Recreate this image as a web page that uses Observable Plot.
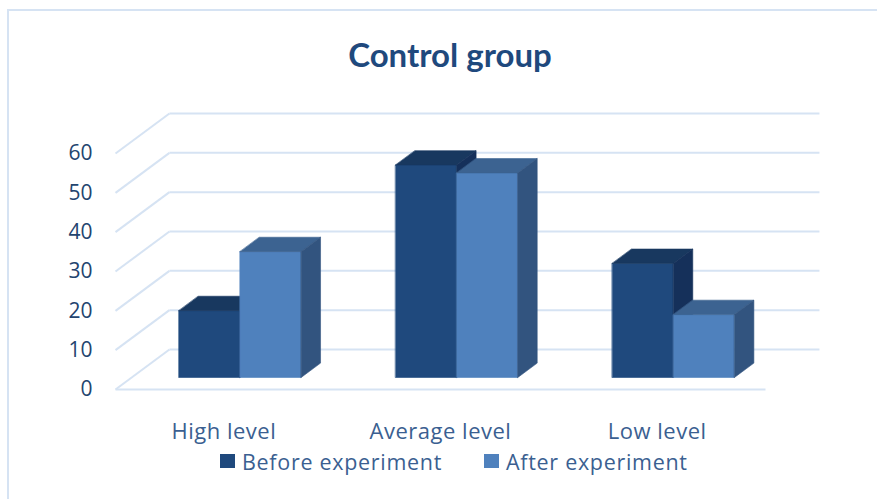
<!DOCTYPE html>
<html>
<head>
<meta charset="utf-8">
<script src="https://cdn.jsdelivr.net/npm/d3@7"></script>
<script src="https://cdn.jsdelivr.net/npm/@observablehq/plot@0.6"></script>
<style>
  html, body { margin: 0; padding: 0; background: #fff; }
  #wrap { position: relative; width: 877px; height: 499px; overflow: hidden; font-family: "Open Sans", Lato, sans-serif; }
  #frame { position: absolute; left: 7px; top: 9px; width: 900px; height: 520px; border-top: 2px solid #d6e3f3; border-left: 2px solid #d6e3f3; }
  #title { position: absolute; left: 0; width: 900px; top: 34px; text-align: center; font-family: Lato, sans-serif; font-weight: bold; font-size: 33px; color: #1f497d; }
  #chart { position: absolute; left: 0; top: 80px; }
  #chart g[aria-label="x-axis tick label"] { letter-spacing: 0.5px; }
  #legend { position: absolute; top: 446px; left: 0; width: 877px; height: 30px; font-size: 21.5px; letter-spacing: 0.7px; color: #3b5f91; white-space: nowrap; }
  .item { position: absolute; top: 0; display: inline-flex; align-items: center; height: 30px; }
  .sw { width: 15px; height: 14px; margin-right: 7px; display: inline-block; }
</style>
</head>
<body>
<div id="wrap">
  <div id="frame"></div>
  <div id="title">Control group</div>
  <div id="chart"></div>
  <div id="legend"></div>
</div>
<script>
// ---- data ----
const categories = ["High level", "Average level", "Low level"];
const seriesNames = ["Before experiment", "After experiment"];
const beforeValues = [17, 54, 29];
const afterValues = [32, 52, 16];
const yTicks = [0, 10, 20, 30, 40, 50, 60];

// ---- styles / geometry ----
const seriesColors = {
  "Before experiment": {front: "#1f497d", top: "#18385f", side: "#15305a"},
  "After experiment": {front: "#4f81bd", top: "#3c6391", side: "#32547f"}
};
const legendLeft = {"Before experiment": 220, "After experiment": 484};
const DEPTH_X = 0.249;   // category units per full depth
const DEPTH_Y = 10.17;   // value units per full depth
const BAR_FRONT = 0.3, BAR_DEPTH = 0.36;
const PAD = 0.218;
const BAR_W = (1 - 2 * PAD) / 2;
const gridColor = "#d6e3f3";
const tickColor = "#23446f";
const catColor = "#3b5f91";

// build faces
const faces = [];
const series = [beforeValues, afterValues];
categories.forEach((cat, i) => {
  series.forEach((vals, s) => {
    const name = seriesNames[s];
    const h = vals[i];
    const u1 = i + PAD + s * BAR_W, u2 = u1 + BAR_W;
    const a = DEPTH_X * BAR_FRONT, b = DEPTH_Y * BAR_FRONT;
    const a2 = DEPTH_X * (BAR_FRONT + BAR_DEPTH), b2 = DEPTH_Y * (BAR_FRONT + BAR_DEPTH);
    const c = seriesColors[name];
    const id = cat + "|" + name;
    const push = (face, color, pts) => pts.forEach(([x, y]) => faces.push({id: id + "|" + face, color, x, y}));
    push("front", c.front, [[u1 + a, b], [u2 + a, b], [u2 + a, h + b], [u1 + a, h + b]]);
    push("top", c.top, [[u1 + a, h + b], [u2 + a, h + b], [u2 + a2, h + b2], [u1 + a2, h + b2]]);
    push("side", c.side, [[u2 + a, b], [u2 + a2, b2], [u2 + a2, h + b2], [u2 + a, h + b]]);
  });
});

const gridLinks = [
  ...yTicks.map(v => ({x1: DEPTH_X, y1: v + DEPTH_Y, x2: categories.length + DEPTH_X, y2: v + DEPTH_Y})),
  ...yTicks.map(v => ({x1: 0, y1: v, x2: DEPTH_X, y2: v + DEPTH_Y})),
  {x1: 0, y1: 0, x2: categories.length, y2: 0}
];

const plot = Plot.plot({
  width: 877,
  height: 370,
  marginLeft: 115,
  marginRight: 112,
  marginTop: 33,
  marginBottom: 61,
  x: {domain: [0, categories.length]},
  y: {domain: [0, d3.max(yTicks) + DEPTH_Y]},
  color: {type: "identity"},
  style: {fontFamily: "'Open Sans', Lato, sans-serif", background: "transparent", overflow: "visible"},
  marks: [
    Plot.link(gridLinks, {x1: "x1", y1: "y1", x2: "x2", y2: "y2", stroke: gridColor, strokeWidth: 2}),
    Plot.line(faces, {x: "x", y: "y", z: "id", fill: "color", stroke: "color", strokeWidth: 0.6, curve: "linear-closed"}),
    Plot.axisY(yTicks, {tickSize: 0, tickPadding: 23, fontSize: 21, fill: tickColor, label: null}),
    Plot.axisX(categories.map((d, i) => i + 0.5), {tickSize: 0, tickPadding: 34, fontSize: 22, fill: catColor, label: null, tickFormat: d => categories[Math.floor(d)]})
  ]
});
document.getElementById("chart").appendChild(plot);

const legend = document.getElementById("legend");
seriesNames.forEach(name => {
  const item = document.createElement("span");
  item.className = "item";
  item.style.left = legendLeft[name] + "px";
  const sw = document.createElement("span");
  sw.className = "sw";
  sw.style.background = seriesColors[name].front;
  item.appendChild(sw);
  item.appendChild(document.createTextNode(name));
  legend.appendChild(item);
});
</script>
</body>
</html>
